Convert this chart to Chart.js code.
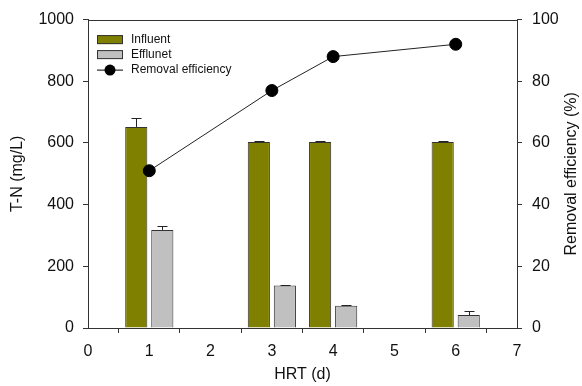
<!DOCTYPE html>
<html><head><meta charset="utf-8">
<script src="https://cdn.jsdelivr.net/npm/chart.js@4"></script>
<style>html,body{margin:0;padding:0;background:#fff}#wrap{width:582px;height:386px}</style>
</head><body><div id="wrap"><canvas id="c" width="582" height="386"></canvas></div>
<script>
const hrt = [1, 3, 4, 6];
const influent = [652, 603, 603, 603];
const influentErr = [30, 2, 2, 2];
const effluent = [318, 138, 72, 42];
const effluentErr = [14, 2, 2, 14];
const removal = [51, 77, 88, 92];
const xTitle = 'HRT (d)';
const yTitle = 'T-N (mg/L)';
const y2Title = 'Removal efficiency (%)';
const seriesNames = ['Influent', 'Efflunet', 'Removal efficiency'];

const FONT = "'Liberation Sans', Arial, sans-serif";
const AXIS = '#333';

const pts = (ys) => hrt.map((x, i) => ({x: x, y: ys[i]}));

const errorBars = {
  id: 'errorBars',
  afterDatasetDraw(chart, args) {
    const ds = chart.data.datasets[args.index];
    if (!ds.errors) return;
    const ctx = chart.ctx, yS = chart.scales.y;
    ctx.save();
    ctx.strokeStyle = '#222'; ctx.lineWidth = 1;
    args.meta.data.forEach((el, i) => {
      const v = ds.data[i].y, e = ds.errors[i];
      const yTop = Math.round(yS.getPixelForValue(v + e)) + 0.5;
      const x = Math.round(el.x) + 0.5;
      ctx.beginPath();
      ctx.moveTo(x, el.y); ctx.lineTo(x, yTop);
      ctx.moveTo(x - 5, yTop); ctx.lineTo(x + 5, yTop);
      ctx.stroke();
    });
    ctx.restore();
  }
};

const extras = {
  id: 'extras',
  afterDraw(chart) {
    const ctx = chart.ctx, a = chart.chartArea;
    ctx.save();
    ctx.strokeStyle = AXIS; ctx.lineWidth = 1;
    ctx.beginPath(); ctx.moveTo(a.left, Math.round(a.top) + 0.5); ctx.lineTo(a.right, Math.round(a.top) + 0.5); ctx.stroke();
    ctx.fillStyle = '#111';
    ctx.font = '16px ' + FONT;
    ctx.textAlign = 'center'; ctx.textBaseline = 'middle';
    ctx.translate(572, (a.top + a.bottom) / 2);
    ctx.rotate(-Math.PI / 2);
    ctx.fillText(y2Title, 0, 0);
    ctx.restore();
    ctx.save();
    ctx.font = '12px ' + FONT;
    ctx.textAlign = 'left'; ctx.textBaseline = 'middle';
    const ds = chart.data.datasets;
    const lx = a.left + 9, ly = a.top + 20, rowH = 15;
    [0, 1, 2].forEach((k, r) => {
      const d = ds[k];
      const cy = ly + r * rowH;
      if (d.type === 'line') {
        ctx.strokeStyle = '#000'; ctx.lineWidth = 1;
        ctx.beginPath(); ctx.moveTo(lx, cy + 0.5); ctx.lineTo(lx + 26, cy + 0.5); ctx.stroke();
        ctx.fillStyle = '#000';
        ctx.beginPath(); ctx.arc(lx + 13, cy + 0.5, 5.5, 0, Math.PI * 2); ctx.fill();
      } else {
        ctx.fillStyle = d.backgroundColor;
        ctx.fillRect(lx, cy - 4.5, 26, 9);
        ctx.strokeStyle = '#333'; ctx.lineWidth = 1;
        ctx.strokeRect(lx + 0.5, cy - 4.5 + 0.5, 25, 8);
      }
      ctx.fillStyle = '#111';
      ctx.fillText(d.label, lx + 34, cy);
    });
    ctx.restore();
  }
};

const gridOpts = {display: true, drawOnChartArea: false, drawTicks: true, tickLength: 5, color: AXIS};
const tickFont = {family: FONT, size: 16};
const plain = v => String(v);

new Chart(document.getElementById('c'), {
  type: 'bar',
  data: {
    datasets: [
      {type: 'bar', label: seriesNames[0], data: pts(influent), errors: influentErr,
       backgroundColor: '#808000', borderColor: '#333', borderWidth: 1,
       xAxisID: 'x', yAxisID: 'y', order: 2, categoryPercentage: 0.85, barPercentage: 0.85},
      {type: 'bar', label: seriesNames[1], data: pts(effluent), errors: effluentErr,
       backgroundColor: '#c0c0c0', borderColor: '#333', borderWidth: 1,
       xAxisID: 'x', yAxisID: 'y', order: 2, categoryPercentage: 0.85, barPercentage: 0.85},
      {type: 'line', label: seriesNames[2], data: pts(removal),
       borderColor: '#222', borderWidth: 1, backgroundColor: '#000',
       pointRadius: 6, pointBackgroundColor: '#000', pointBorderColor: '#000',
       xAxisID: 'x', yAxisID: 'y2', order: 0, tension: 0}
    ]
  },
  options: {
    responsive: false, animation: false, devicePixelRatio: 1,
    layout: {padding: {top: 18, left: 0, right: 0, bottom: 0}},
    plugins: {legend: {display: false}, tooltip: {enabled: false}},
    scales: {
      x: {type: 'linear', min: 0, max: 7, offset: false,
          ticks: {stepSize: 1, font: tickFont, color: '#111', padding: 9, callback: plain},
          grid: gridOpts, border: {display: true, color: AXIS},
          title: {display: true, text: xTitle, font: {family: FONT, size: 16}, color: '#111', padding: {top: 2, bottom: 2}},
          afterFit: s => { s.height = 58; }},
      y: {position: 'left', min: 0, max: 1000,
          ticks: {stepSize: 200, font: tickFont, color: '#111', padding: 9, callback: plain},
          grid: gridOpts, border: {display: true, color: AXIS},
          title: {display: true, text: yTitle, font: {family: FONT, size: 16}, color: '#111', padding: {top: 8, bottom: 0}},
          afterFit: s => { s.width = 88; }},
      y2: {position: 'right', min: 0, max: 100,
          ticks: {stepSize: 20, font: tickFont, color: '#111', padding: 10, callback: plain},
          grid: gridOpts, border: {display: true, color: AXIS},
          title: {display: false},
          afterFit: s => { s.width = 65; }}
    }
  },
  plugins: [errorBars, extras]
});
</script></body></html>
